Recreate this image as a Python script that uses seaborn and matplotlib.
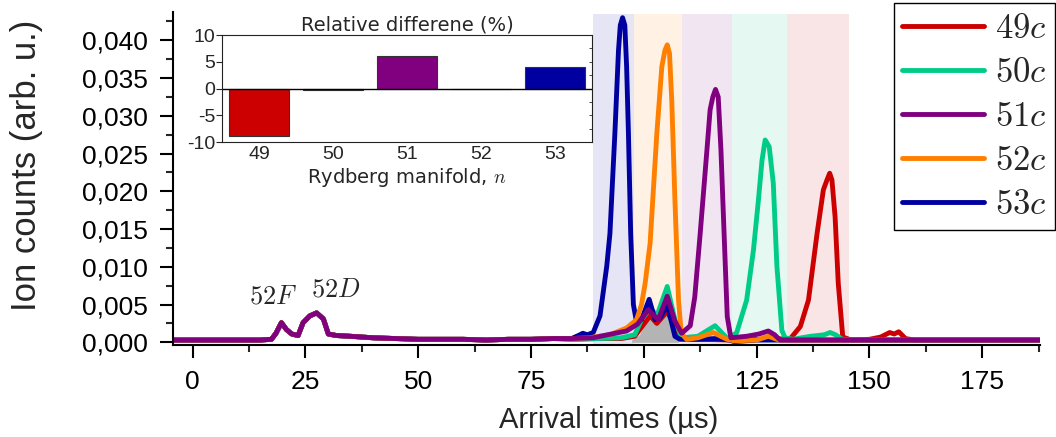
import matplotlib
matplotlib.use('Agg')
import matplotlib.pyplot as plt
from matplotlib.lines import Line2D
from matplotlib.ticker import MultipleLocator
import pandas as pd
import seaborn as sns

# baseline part shared by all traces (52F / 52D region)
t_early = [-4.4, 0, 5, 10, 15, 17.5, 18.5, 19.7, 20.8, 22.0, 23.4, 24.5, 26.0, 27.5, 29.0, 30.1, 31.9,
           35, 40, 45, 50, 55, 60, 65, 70, 75, 80]
y_early = [0.0003, 0.0003, 0.0003, 0.0003, 0.0003, 0.0004, 0.0012, 0.0026, 0.0017, 0.0011, 0.0009, 0.0026,
           0.0035, 0.0039, 0.0031, 0.0011, 0.0009, 0.0008, 0.0006, 0.0005, 0.0004, 0.0004, 0.0004, 0.0003,
           0.0004, 0.0004, 0.0005]

# 49c
t_49 = [84, 90, 95, 98, 99.5, 101.4, 102.9, 105.2, 106.9, 108.4, 112, 120, 128, 132.5, 134.7, 136.5, 138.4,
        139.8, 140.6, 141.2, 141.7, 142.4, 143.1, 144.1, 146, 150, 152.5, 154.5, 155.5, 156.5, 158, 160, 170,
        187.7]
y_49 = [0.0004, 0.0005, 0.0005, 0.0008, 0.0020, 0.0035, 0.0025, 0.0041, 0.0020, 0.0005, 0.0004, 0.0003,
        0.0004, 0.0005, 0.0021, 0.0056, 0.0144, 0.0202, 0.0215, 0.0224, 0.0215, 0.0166, 0.0078, 0.0007,
        0.0003, 0.0004, 0.0007, 0.0013, 0.0011, 0.0014, 0.0005, 0.0003, 0.0003, 0.0003]
# 50c
t_50 = [84, 90, 95, 98, 99.5, 101.4, 102.9, 105.2, 106.9, 108.4, 112, 115.8, 118.7, 120.6, 122.8, 124.3,
        125.4, 126.2, 126.9, 127.8, 128.7, 129.5, 130.6, 131.3, 133, 137, 140, 141.3, 142.5, 144, 150, 170,
        187.7]
y_50 = [0.0004, 0.0005, 0.0006, 0.0010, 0.0030, 0.0046, 0.0035, 0.0074, 0.0030, 0.0006, 0.0008, 0.0022,
        0.0004, 0.0013, 0.0056, 0.0122, 0.0188, 0.0241, 0.0268, 0.0259, 0.0211, 0.0101, 0.0016, 0.0006,
        0.0004, 0.0008, 0.0010, 0.0013, 0.0010, 0.0004, 0.0003, 0.0003, 0.0003]
# 51c
t_51 = [84, 88.8, 92, 96.2, 98.6, 101.0, 103.2, 105.2, 106.9, 108.4, 110.3, 111.3, 112.5, 114.0, 114.7,
        115.3, 115.9, 116.5, 117.1, 117.8, 118.5, 119.3, 122.8, 125.5, 127.6, 129, 130.2, 135, 150, 170, 187.7]
y_51 = [0.0005, 0.0006, 0.0010, 0.0015, 0.0024, 0.0043, 0.0030, 0.0061, 0.0028, 0.0012, 0.0022, 0.0060,
        0.0144, 0.0255, 0.0308, 0.0325, 0.0335, 0.0325, 0.0255, 0.0144, 0.0034, 0.0006, 0.0008, 0.0011,
        0.0015, 0.0010, 0.0003, 0.0003, 0.0003, 0.0003, 0.0003]
# 52c
t_52 = [84, 88, 90, 92.5, 96.2, 98.4, 99.5, 100.3, 101.4, 102.9, 104.0, 104.7, 105.2, 105.7, 106.2, 106.9,
        107.7, 108.3, 109.5, 112, 115.4, 118.4, 120, 125, 127.6, 130, 140, 160, 187.7]
y_52 = [0.0005, 0.0006, 0.0008, 0.0010, 0.0019, 0.0030, 0.0050, 0.0078, 0.0131, 0.0277, 0.0365, 0.0387,
        0.0394, 0.0383, 0.0321, 0.0189, 0.0056, 0.0012, 0.0004, 0.0006, 0.0013, 0.0004, 0.0002, 0.0003,
        0.0008, 0.0003, 0.0003, 0.0003, 0.0003]
# 53c
t_53 = [84, 85.5, 86.5, 87.5, 88.8, 90.3, 91.8, 92.5, 93.6, 94.4, 94.8, 95.3, 95.8, 96.2, 96.6, 97.1, 97.7,
        98.3, 99.5, 101.2, 102.5, 103.6, 105.2, 106.9, 108, 112, 116, 119, 120, 125, 140, 160, 187.7]
y_53 = [0.0005, 0.0009, 0.0012, 0.0010, 0.0013, 0.0035, 0.0101, 0.0144, 0.0277, 0.0387, 0.0420, 0.0430,
        0.0420, 0.0365, 0.0277, 0.0144, 0.0050, 0.0030, 0.0030, 0.0057, 0.0030, 0.0032, 0.0050, 0.0008,
        0.0004, 0.0004, 0.0005, 0.0003, 0.0001, 0.0003, 0.0003, 0.0003, 0.0003]

# grey area under the cluster near 100 us
gray_t = [97.3, 99.0, 100.3, 101.4, 102.3, 103.2, 104.3, 105.2, 106.0, 106.9, 107.7]
gray_y = [0.0003, 0.0010, 0.0025, 0.0037, 0.0030, 0.0024, 0.0034, 0.0041, 0.0030, 0.0013, 0.0003]

labels = ['$49c$', '$50c$', '$51c$', '$52c$', '$53c$']
colors = ['#CC0000', '#00CC88', '#800080', '#FF8000', '#0000A0']
tails = [(t_49, y_49), (t_50, y_50), (t_51, y_51), (t_52, y_52), (t_53, y_53)]
draw_order = [0, 1, 4, 3, 2]

# shaded gates (53c, 52c, 51c, 50c, 49c)
band_edges = [88.8, 97.9, 108.5, 119.6, 131.8, 145.5]
band_colors = ['#0000A0', '#FF8000', '#800080', '#00CC88', '#CC0000']

# inset
inset_n = ['49', '50', '51', '52', '53']
inset_rel = [-8.8, -0.3, 6.1, 0.0, 4.1]

xtick_vals = [0, 25, 50, 75, 100, 125, 150, 175]
ytick_vals = [0.0, 0.005, 0.010, 0.015, 0.020, 0.025, 0.030, 0.035, 0.040]
ytick_labels = ['0,000', '0,005', '0,010', '0,015', '0,020', '0,025', '0,030', '0,035', '0,040']

sns.set_theme(style='ticks')
plt.rcParams['font.family'] = ['Liberation Sans', 'DejaVu Sans']
plt.rcParams['mathtext.fontset'] = 'cm'
plt.rcParams['axes.unicode_minus'] = False

rows = []
for lab, (tt, yy) in zip(labels, tails):
    for t, y in zip(t_early + tt, y_early + yy):
        rows.append({'t': t, 'counts': y, 'curve': lab})
df = pd.DataFrame(rows)

fig = plt.figure(figsize=(10.56, 4.37), dpi=100)
ax = fig.add_axes([0.1635, 0.2094, 0.8209, 0.7631])

for i in range(5):
    ax.axvspan(band_edges[i], band_edges[i + 1], ymin=0, ymax=0.995, color=band_colors[i], alpha=0.1, lw=0, zorder=0)

ax.fill_between(gray_t, 0, gray_y, color='#B4B4B4', lw=0, zorder=1)

for i in draw_order:
    sub = df[df['curve'] == labels[i]]
    sns.lineplot(data=sub, x='t', y='counts', color=colors[i], lw=3.5, estimator=None, sort=False, ax=ax,
                 solid_joinstyle='round', solid_capstyle='round', zorder=2)

ax.text(17.9, 0.0061, '$52F$', fontsize=19, ha='center', va='center')
ax.text(31.7, 0.0070, '$52D$', fontsize=19, ha='center', va='center')

ax.set_xlim(-4.4, 187.7)
ax.set_ylim(-0.00042, 0.04375)
ax.set_xticks(xtick_vals)
ax.set_xticklabels([str(v) for v in xtick_vals])
ax.set_yticks(ytick_vals)
ax.set_yticklabels(ytick_labels)
ax.xaxis.set_minor_locator(MultipleLocator(12.5))
ax.yaxis.set_minor_locator(MultipleLocator(0.0025))
ax.tick_params(which='major', direction='out', length=9.5, width=1.5, pad=8.5, labelsize=19, colors='black')
ax.tick_params(which='minor', direction='out', length=5, width=1.5)
sns.despine(ax=ax)
for s in ['left', 'bottom']:
    ax.spines[s].set_linewidth(1.5)
    ax.spines[s].set_color('black')

ax.set_xlabel('Arrival times (µs)', fontsize=21)
ax.set_ylabel('Ion counts (arb. u.)', fontsize=25)
ax.xaxis.set_label_coords(0.503, -0.181)
ax.yaxis.set_label_coords(-0.149, 0.541)

handles = [Line2D([0], [0], color=c, lw=3.5, solid_capstyle='round') for c in colors]
leg = fig.legend(handles, labels, loc='upper right', bbox_to_anchor=(1055 / 1056, 1 - 3 / 437), fontsize=25,
                 frameon=True, fancybox=False, edgecolor='black', framealpha=1, handlelength=2.36,
                 handletextpad=0.3, labelspacing=0.32, borderpad=0.25, borderaxespad=0)
leg.get_frame().set_linewidth(1)

# inset: relative difference bars
ax_in = fig.add_axes([0.2102, 0.675, 0.3504, 0.2449])
ax_in.set_facecolor('white')
sns.barplot(x=inset_n, y=inset_rel, hue=inset_n, palette=colors, legend=False, width=0.8,
            edgecolor='#333333', linewidth=0.8, saturation=1, ax=ax_in)
ax_in.axhline(0, color='black', lw=1)
ax_in.set_xlim(-0.5, 4.5)
ax_in.set_ylim(-10, 10)
ax_in.set_yticks([-10, -5, 0, 5, 10])
ax_in.set_yticklabels(['-10', '-5', '0', '5', '10'])
ax_in.tick_params(axis='y', direction='out', length=4, width=0.8, pad=1, labelsize=14)
ax_in.tick_params(axis='x', length=0, pad=3, labelsize=14)
for s in ax_in.spines.values():
    s.set_linewidth(0.8)
    s.set_color('#222222')
sec = ax_in.secondary_yaxis('right')
sec.set_yticks([-7.5, -5, -2.5, 2.5, 5, 7.5])
sec.set_yticklabels([])
sec.tick_params(direction='in', length=2.5, width=0.6)
sec.spines['right'].set_visible(False)
ax_in.set_title('Relative differene (%)', fontsize=14, family='DejaVu Sans', pad=3)
ax_in.set_xlabel('Rydberg manifold, $n$', fontsize=14, family='DejaVu Sans', labelpad=2)
ax_in.set_ylabel('')

fig.savefig('out.png', dpi=100)
